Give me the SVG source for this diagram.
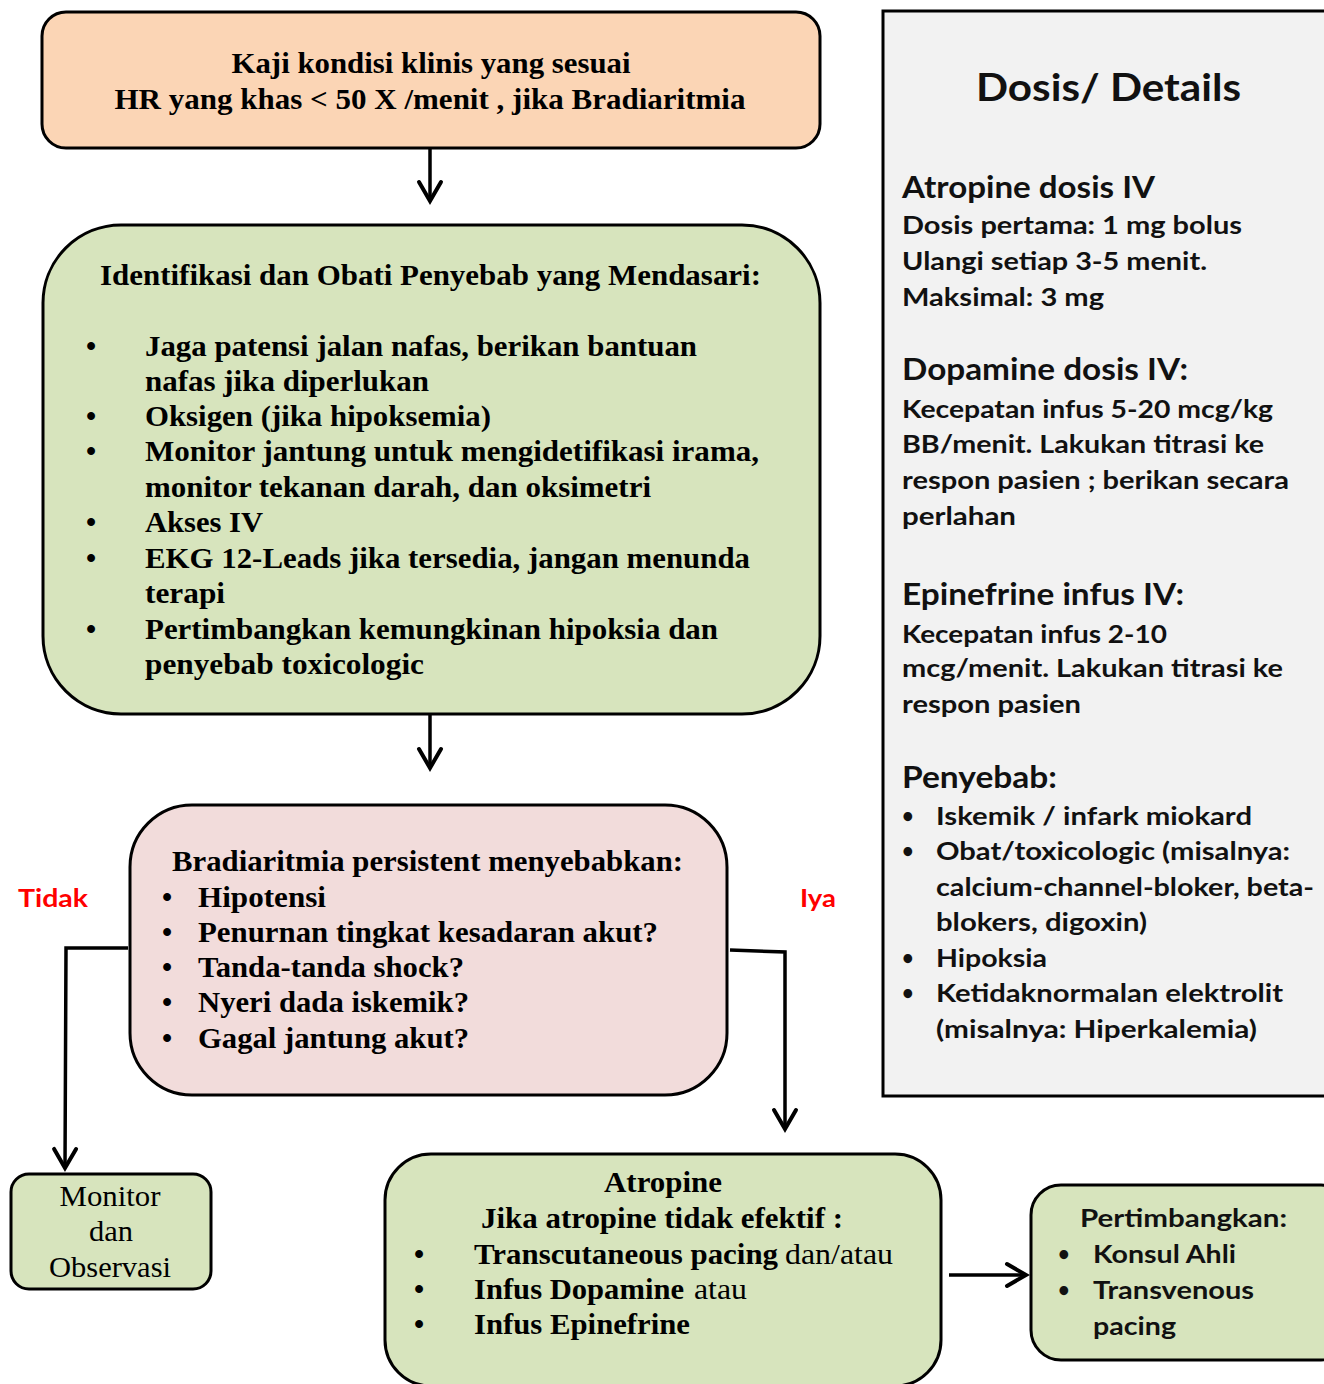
<svg xmlns="http://www.w3.org/2000/svg" width="1324" height="1384" viewBox="0 0 1324 1384">
  <defs>
    <style>
      .box { stroke: #000; stroke-width: 3; }
      .peach { fill: #FBD5B5; }
      .green { fill: #D7E4BD; }
      .pink { fill: #F2DCDB; }
      .grey { fill: #F2F2F2; }
      .sb { font-family: "Liberation Serif", "Times New Roman", serif; font-weight: 700; font-size: 29px; fill: #000; }
      .sr { font-family: "Liberation Serif", "Times New Roman", serif; font-weight: 400; font-size: 29px; fill: #000; }
      .ss { font-family: Lato, "Open Sans", "Liberation Sans", sans-serif; font-weight: 700; fill: #111; }
      .body { font-size: 25px; }
      .head { font-size: 30px; }
      .title { font-size: 38px; }
      .bul { font-size: 20px; }
      .lbl { font-family: Lato, "Open Sans", "Liberation Sans", sans-serif; font-weight: 700; font-size: 25px; fill: #FF0000; }
      .conn { fill: none; stroke: #000; stroke-width: 3.5; }
    </style>
    <marker id="arrow" markerUnits="userSpaceOnUse" markerWidth="28" markerHeight="28" viewBox="0 0 28 28" refX="24" refY="14" orient="auto">
      <path d="M5,3 L24,14 L5,25" fill="none" stroke="#000" stroke-width="4" stroke-linecap="round" stroke-linejoin="miter"/>
    </marker>
  </defs>

  <rect width="1324" height="1384" fill="#fff"/>

  <!-- connectors -->
  <g id="connectors">
    <path class="conn" d="M430,148 L430,201" marker-end="url(#arrow)"/>
    <path class="conn" d="M430,714 L430,768" marker-end="url(#arrow)"/>
    <path class="conn" d="M128,948 L66,948 L65,1168" marker-end="url(#arrow)"/>
    <path class="conn" d="M730,950 L785,952 L785,1129" marker-end="url(#arrow)"/>
    <path class="conn" d="M949,1275 L1026,1275" marker-end="url(#arrow)"/>
  </g>

  <!-- start: assessment -->
  <g id="node-assess">
    <rect class="box peach" x="42" y="12" width="778" height="136" rx="24"/>
    <text class="sb" x="431" y="73" text-anchor="middle" textLength="399" lengthAdjust="spacingAndGlyphs">Kaji kondisi klinis yang sesuai</text>
    <text class="sb" x="430" y="109" text-anchor="middle" textLength="631" lengthAdjust="spacingAndGlyphs">HR yang khas &lt; 50 X /menit , jika Bradiaritmia</text>
  </g>

  <!-- identify and treat -->
  <g id="node-identify">
    <rect class="box green" x="43" y="225" width="777" height="489" rx="78"/>
    <text class="sb" x="100" y="285" textLength="661" lengthAdjust="spacingAndGlyphs">Identifikasi dan Obati Penyebab yang Mendasari:</text>
    <g class="sb">
      <text x="86" y="356">•</text>
      <text x="86" y="426">•</text>
      <text x="86" y="461">•</text>
      <text x="86" y="532">•</text>
      <text x="86" y="568">•</text>
      <text x="86" y="639">•</text>
      <text x="145" y="356" textLength="552" lengthAdjust="spacingAndGlyphs">Jaga patensi jalan nafas, berikan bantuan</text>
      <text x="145" y="391" textLength="284" lengthAdjust="spacingAndGlyphs">nafas jika diperlukan</text>
      <text x="145" y="426" textLength="346" lengthAdjust="spacingAndGlyphs">Oksigen (jika hipoksemia)</text>
      <text x="145" y="461" textLength="614" lengthAdjust="spacingAndGlyphs">Monitor jantung untuk mengidetifikasi irama,</text>
      <text x="145" y="497" textLength="506" lengthAdjust="spacingAndGlyphs">monitor tekanan darah, dan oksimetri</text>
      <text x="145" y="532" textLength="118" lengthAdjust="spacingAndGlyphs">Akses IV</text>
      <text x="145" y="568" textLength="605" lengthAdjust="spacingAndGlyphs">EKG 12-Leads jika tersedia, jangan menunda</text>
      <text x="145" y="603" textLength="80" lengthAdjust="spacingAndGlyphs">terapi</text>
      <text x="145" y="639" textLength="573" lengthAdjust="spacingAndGlyphs">Pertimbangkan kemungkinan hipoksia dan</text>
      <text x="145" y="674" textLength="279" lengthAdjust="spacingAndGlyphs">penyebab toxicologic</text>
    </g>
  </g>

  <!-- decision -->
  <g id="node-persistent">
    <rect class="box pink" x="130" y="805" width="597" height="290" rx="62"/>
    <text class="sb" x="172" y="871" textLength="511" lengthAdjust="spacingAndGlyphs">Bradiaritmia persistent menyebabkan:</text>
    <g class="sb">
      <text x="162" y="907">•</text>
      <text x="162" y="942">•</text>
      <text x="162" y="977">•</text>
      <text x="162" y="1012">•</text>
      <text x="162" y="1048">•</text>
      <text x="198" y="907" textLength="128" lengthAdjust="spacingAndGlyphs">Hipotensi</text>
      <text x="198" y="942" textLength="460" lengthAdjust="spacingAndGlyphs">Penurnan tingkat kesadaran akut?</text>
      <text x="198" y="977" textLength="266" lengthAdjust="spacingAndGlyphs">Tanda-tanda shock?</text>
      <text x="198" y="1012" textLength="271" lengthAdjust="spacingAndGlyphs">Nyeri dada iskemik?</text>
      <text x="198" y="1048" textLength="271" lengthAdjust="spacingAndGlyphs">Gagal jantung akut?</text>
    </g>
  </g>

  <!-- branch labels -->
  <g id="labels">
    <text class="lbl" x="18" y="907" textLength="70" lengthAdjust="spacingAndGlyphs">Tidak</text>
    <text class="lbl" x="800" y="907" textLength="36" lengthAdjust="spacingAndGlyphs">Iya</text>
  </g>

  <!-- no branch -->
  <g id="node-monitor">
    <rect class="box green" x="11" y="1174" width="200" height="115" rx="18"/>
    <text class="sr" x="110" y="1206" text-anchor="middle" textLength="101" lengthAdjust="spacingAndGlyphs">Monitor</text>
    <text class="sr" x="111" y="1241" text-anchor="middle" textLength="44" lengthAdjust="spacingAndGlyphs">dan</text>
    <text class="sr" x="110" y="1277" text-anchor="middle" textLength="122" lengthAdjust="spacingAndGlyphs">Observasi</text>
  </g>

  <!-- yes branch -->
  <g id="node-atropine">
    <rect class="box green" x="385" y="1154" width="556" height="232" rx="46"/>
    <text class="sb" x="663" y="1192" text-anchor="middle" textLength="118" lengthAdjust="spacingAndGlyphs">Atropine</text>
    <text class="sb" x="662" y="1228" text-anchor="middle" textLength="362" lengthAdjust="spacingAndGlyphs">Jika atropine tidak efektif :</text>
    <text class="sb" x="414" y="1264">•</text>
    <text class="sb" x="414" y="1299">•</text>
    <text class="sb" x="414" y="1334">•</text>
    <text class="sb" x="474" y="1264" textLength="304" lengthAdjust="spacingAndGlyphs">Transcutaneous pacing</text>
    <text class="sr" x="785" y="1264" textLength="108" lengthAdjust="spacingAndGlyphs">dan/atau</text>
    <text class="sb" x="474" y="1299" textLength="210" lengthAdjust="spacingAndGlyphs">Infus Dopamine</text>
    <text class="sr" x="694" y="1299" textLength="53" lengthAdjust="spacingAndGlyphs">atau</text>
    <text class="sb" x="474" y="1334" textLength="216" lengthAdjust="spacingAndGlyphs">Infus Epinefrine</text>
  </g>

  <g id="node-consider">
    <rect class="box green" x="1031" y="1185" width="320" height="175" rx="30"/>
    <text class="ss body" x="1080" y="1227" textLength="207" lengthAdjust="spacingAndGlyphs">Pertimbangkan:</text>
    <text class="ss bul" x="1058" y="1261">•</text>
    <text class="ss bul" x="1058" y="1297">•</text>
    <text class="ss body" x="1093" y="1263" textLength="143" lengthAdjust="spacingAndGlyphs">Konsul Ahli</text>
    <text class="ss body" x="1093" y="1299" textLength="161" lengthAdjust="spacingAndGlyphs">Transvenous</text>
    <text class="ss body" x="1093" y="1335" textLength="83" lengthAdjust="spacingAndGlyphs">pacing</text>
  </g>

  <!-- dosage side panel -->
  <g id="panel-details">
    <rect class="box grey" x="883" y="11" width="460" height="1085"/>
    <text class="ss title" x="976" y="101" textLength="265" lengthAdjust="spacingAndGlyphs">Dosis/ Details</text>

    <text class="ss head" x="902" y="198" textLength="253" lengthAdjust="spacingAndGlyphs">Atropine dosis IV</text>
    <text class="ss body" x="902" y="234" textLength="340" lengthAdjust="spacingAndGlyphs">Dosis pertama: 1 mg bolus</text>
    <text class="ss body" x="902" y="270" textLength="305" lengthAdjust="spacingAndGlyphs">Ulangi setiap 3-5 menit.</text>
    <text class="ss body" x="902" y="306" textLength="202" lengthAdjust="spacingAndGlyphs">Maksimal: 3 mg</text>

    <text class="ss head" x="902" y="380" textLength="286" lengthAdjust="spacingAndGlyphs">Dopamine dosis IV:</text>
    <text class="ss body" x="902" y="418" textLength="371" lengthAdjust="spacingAndGlyphs">Kecepatan infus 5-20 mcg/kg</text>
    <text class="ss body" x="902" y="453" textLength="362" lengthAdjust="spacingAndGlyphs">BB/menit. Lakukan titrasi ke</text>
    <text class="ss body" x="902" y="489" textLength="387" lengthAdjust="spacingAndGlyphs">respon pasien ; berikan secara</text>
    <text class="ss body" x="902" y="525" textLength="114" lengthAdjust="spacingAndGlyphs">perlahan</text>

    <text class="ss head" x="902" y="605" textLength="282" lengthAdjust="spacingAndGlyphs">Epinefrine infus IV:</text>
    <text class="ss body" x="902" y="643" textLength="265" lengthAdjust="spacingAndGlyphs">Kecepatan infus 2-10</text>
    <text class="ss body" x="902" y="677" textLength="381" lengthAdjust="spacingAndGlyphs">mcg/menit. Lakukan titrasi ke</text>
    <text class="ss body" x="902" y="713" textLength="179" lengthAdjust="spacingAndGlyphs">respon pasien</text>

    <text class="ss head" x="902" y="788" textLength="155" lengthAdjust="spacingAndGlyphs">Penyebab:</text>
    <text class="ss bul" x="902" y="823">•</text>
    <text class="ss bul" x="902" y="858">•</text>
    <text class="ss bul" x="902" y="965">•</text>
    <text class="ss bul" x="902" y="1000">•</text>
    <text class="ss body" x="936" y="825" textLength="316" lengthAdjust="spacingAndGlyphs">Iskemik / infark miokard</text>
    <text class="ss body" x="936" y="860" textLength="354" lengthAdjust="spacingAndGlyphs">Obat/toxicologic (misalnya:</text>
    <text class="ss body" x="936" y="896" textLength="378" lengthAdjust="spacingAndGlyphs">calcium-channel-bloker, beta-</text>
    <text class="ss body" x="936" y="931" textLength="211" lengthAdjust="spacingAndGlyphs">blokers, digoxin)</text>
    <text class="ss body" x="936" y="967" textLength="111" lengthAdjust="spacingAndGlyphs">Hipoksia</text>
    <text class="ss body" x="936" y="1002" textLength="347" lengthAdjust="spacingAndGlyphs">Ketidaknormalan elektrolit</text>
    <text class="ss body" x="936" y="1038" textLength="321" lengthAdjust="spacingAndGlyphs">(misalnya: Hiperkalemia)</text>
  </g>
</svg>
